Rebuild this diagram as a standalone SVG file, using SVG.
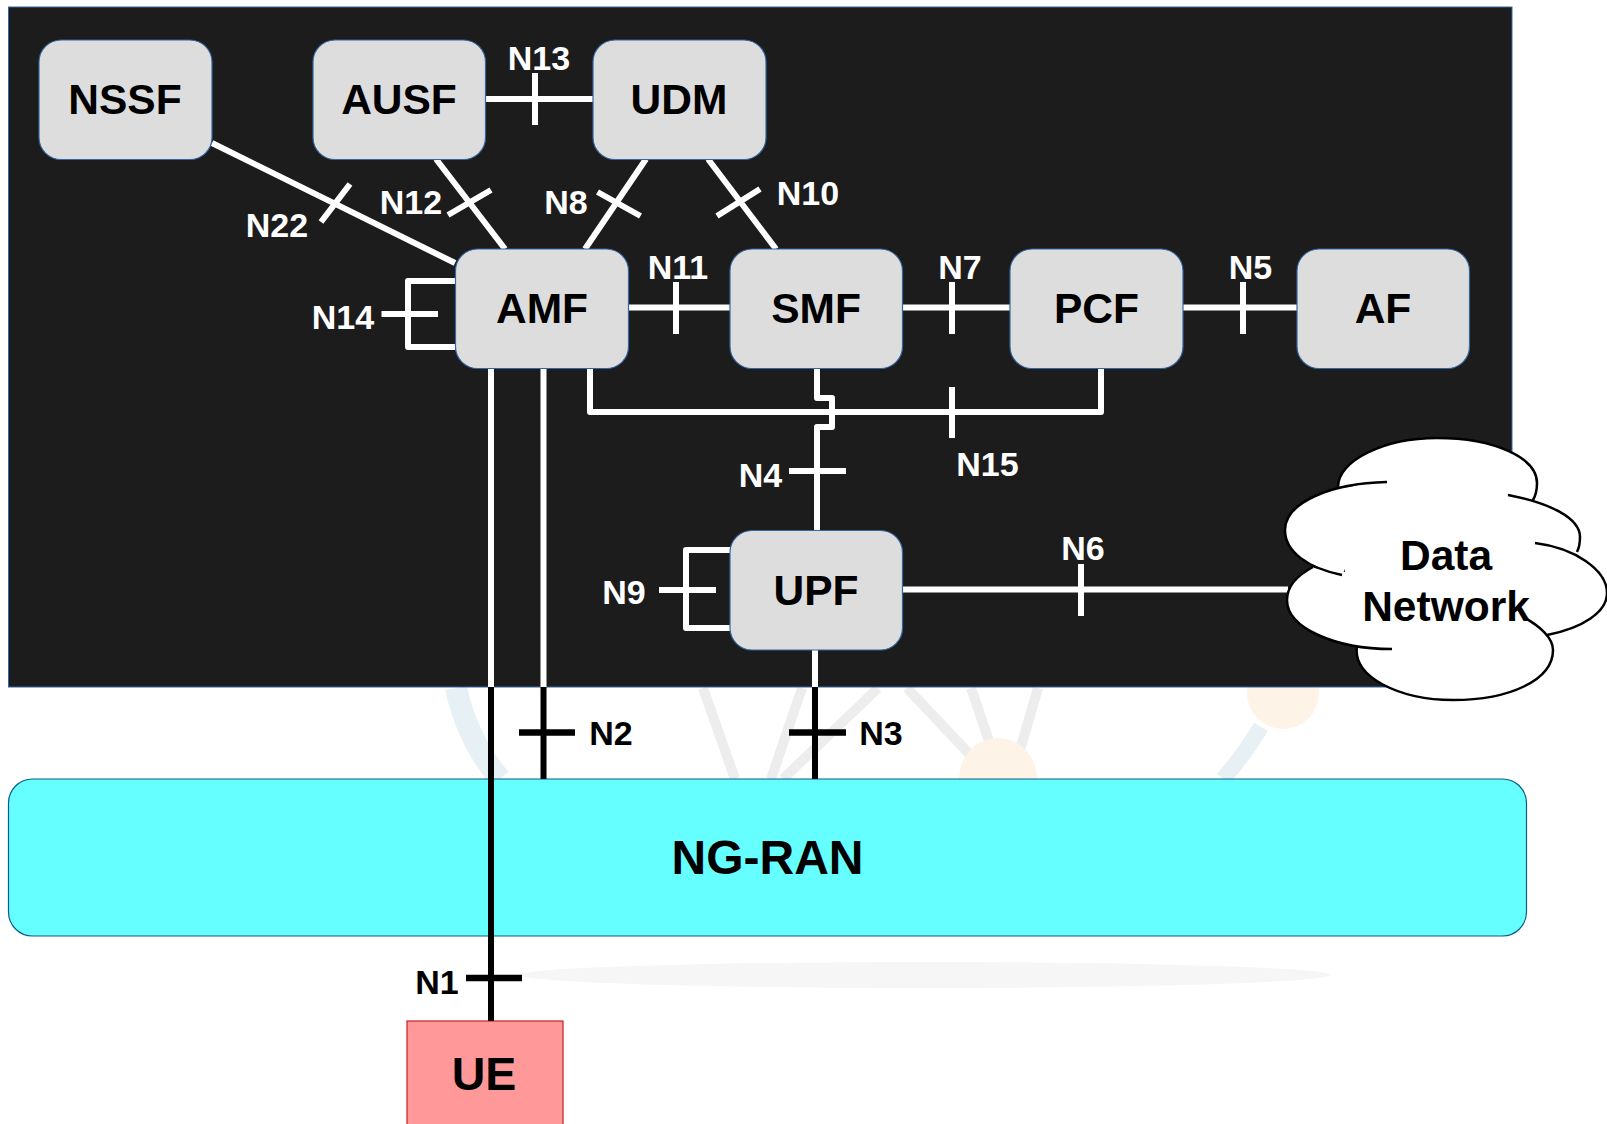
<svg xmlns="http://www.w3.org/2000/svg" width="1607" height="1124" viewBox="0 0 1607 1124">
<style>
text{font-family:"Liberation Sans",Arial,sans-serif;font-weight:700;text-anchor:middle}
.node rect{fill:#dddddd;stroke:#3465a4;stroke-width:1.2}
.node text{font-size:42.5px;fill:#000}
.w{stroke:#fff;stroke-width:6;fill:none;stroke-linejoin:round}
.k{stroke:#000;stroke-width:6;fill:none}
.kt{stroke:#000;stroke-width:6.5;fill:none}
.lw{font-size:34px;fill:#fff}
.lk{font-size:34px;fill:#000}
</style>
<defs>
<path id="cloudPath" d="M1338,487C1338,460 1385,438 1437,438C1495,438 1537,458 1537,483C1537,490 1536,495 1533,500M1387,482C1330,483 1285,503 1285,530C1285,552 1308,568 1342,575M1508,495C1550,503 1580,518 1580,537C1580,543 1579,548 1577,552M1535,543C1575,548 1607,570 1607,593C1607,612 1583,628 1547,635M1313,567C1296,576 1287,588 1287,600C1287,628 1335,649 1392,649M1357,647C1352,677 1400,700 1453,700C1510,700 1553,680 1553,650C1553,638 1540,626 1523,617"/>
</defs>
<g id="watermark">
<path d="M456,688C464,725 480,755 500,779" fill="none" stroke="#e6f0f5" stroke-width="22"/>
<path d="M1261,727C1250,745 1238,762 1223,779" fill="none" stroke="#e6f0f5" stroke-width="16"/>
<g stroke="#ededed" stroke-width="10" fill="none">
<path d="M703,688L735,779M802,688L771,779M878,688L783,779M907,688L975,760M971,688L992,750M1038,688L1020,750"/>
</g>
<ellipse cx="998" cy="778" rx="39" ry="40" fill="#fdf3e7"/>
<ellipse cx="1283" cy="693" rx="36" ry="36" fill="#fdf3e7"/>
<ellipse cx="925" cy="975" rx="405" ry="13" fill="#f6f6f6"/>
</g>
<rect id="core" x="8.5" y="7" width="1503.5" height="680" fill="#1c1c1c" stroke="#3465a4" stroke-width="1"/>
<g id="ng-ran">
<rect x="8.5" y="779" width="1518" height="157" rx="24" fill="#66ffff" stroke="#0b5a8a" stroke-width="1.2"/>
<text x="767.5" y="874" font-size="48" fill="#000">NG-RAN</text>
</g>
<g id="ue">
<rect x="407" y="1021" width="156" height="110" fill="#ff9999" stroke="#c9211e" stroke-width="1.2"/>
<text x="484" y="1090" font-size="46.5" fill="#000">UE</text>
</g>
<g id="connectors">
<path class="w" d="M212,143L455,263M350,184L321,222"/>
<path class="w" d="M485,99H593M535,73V125"/>
<path class="w" d="M436,159L505,249M448,215L491,190"/>
<path class="w" d="M646,159L585,249M597.5,192L640.5,216"/>
<path class="w" d="M708,159L776,249M717,216L760,189"/>
<path class="w" d="M628,307.5H730M676,282V334"/>
<path class="w" d="M902,307.5H1010M952,282V334"/>
<path class="w" d="M1183,307.5H1297M1243,282V334"/>
<path class="w" d="M455,281H408V347H455M381.5,314H438"/>
<path class="w" d="M731,550H686V628H731M659,590H716"/>
<path class="w" d="M590,368V412H1101V368M952,387V438"/>
<path class="w" d="M817,368V398H832V427H817V531M789,471H846"/>
<path class="w" d="M902,589.5H1288M1081,564V616"/>
<path class="w" d="M491,368V687M543.5,368V687M815,650V687"/>
<path class="k" d="M491,687V1021M543.5,687V779M815,687V779"/>
<path class="kt" d="M519,732.5H575M789,732.5H846M466,978H522"/>
</g>
<g id="nssf" class="node"><rect x="39" y="40" width="173" height="119.5" rx="22"/><text x="125" y="114">NSSF</text></g>
<g id="ausf" class="node"><rect x="313" y="40" width="172.5" height="119.5" rx="22"/><text x="399" y="114">AUSF</text></g>
<g id="udm" class="node"><rect x="593" y="40" width="173" height="119.5" rx="22"/><text x="679" y="114">UDM</text></g>
<g id="amf" class="node"><rect x="455.5" y="249" width="173" height="119.5" rx="22"/><text x="542" y="323">AMF</text></g>
<g id="smf" class="node"><rect x="730" y="249" width="172.5" height="119.5" rx="22"/><text x="816" y="323">SMF</text></g>
<g id="pcf" class="node"><rect x="1010" y="249" width="173" height="119.5" rx="22"/><text x="1096.5" y="323">PCF</text></g>
<g id="af" class="node"><rect x="1297" y="249" width="172.5" height="119.5" rx="22"/><text x="1383" y="323">AF</text></g>
<g id="upf" class="node"><rect x="730" y="530.5" width="172.5" height="119.5" rx="22"/><text x="816" y="605">UPF</text></g>
<g id="data-network">
<use href="#cloudPath" fill="#fff" stroke="none"/>
<path d="M1336,490L1390,478L1510,490L1575,560L1545,640L1390,655L1300,600L1313,568L1345,572Z" fill="#fff"/>
<use href="#cloudPath" fill="none" stroke="#000" stroke-width="2.5"/>
<text x="1446" y="570" font-size="42.5" fill="#000">Data</text>
<text x="1446" y="621" font-size="42.5" fill="#000">Network</text>
</g>
<g id="labels">
<text class="lw" x="539" y="70">N13</text>
<text class="lw" x="277" y="236.5">N22</text>
<text class="lw" x="411" y="214">N12</text>
<text class="lw" x="566" y="214">N8</text>
<text class="lw" x="808" y="205">N10</text>
<text class="lw" x="678" y="279">N11</text>
<text class="lw" x="960" y="279">N7</text>
<text class="lw" x="1250.5" y="279">N5</text>
<text class="lw" x="343" y="329">N14</text>
<text class="lw" x="760.5" y="487">N4</text>
<text class="lw" x="987.5" y="476">N15</text>
<text class="lw" x="1083" y="560">N6</text>
<text class="lw" x="624" y="604">N9</text>
<text class="lk" x="611" y="745">N2</text>
<text class="lk" x="881" y="745">N3</text>
<text class="lk" x="437" y="994">N1</text>
</g>
</svg>
